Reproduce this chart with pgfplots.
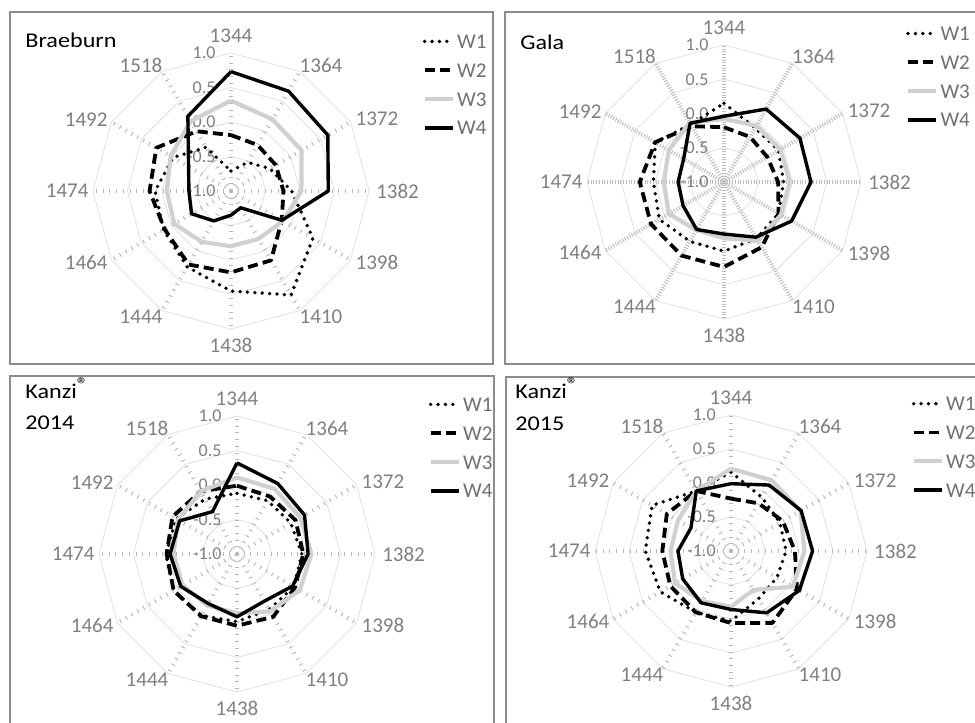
\documentclass[border=0pt]{standalone}
\usepackage{fontspec}
\setmainfont{Carlito}
\usepackage{graphicx}
\usepackage{pgfplots}
\usepackage{pgfplotstable}
\pgfplotsset{compat=1.18}

\definecolor{lab}{HTML}{7F7F7F}
\definecolor{ring}{HTML}{E3E3E3}
\definecolor{spk}{HTML}{B8B8B8}
\definecolor{spkb}{HTML}{BDBDBD}
\definecolor{wthree}{HTML}{D0D0D0}
\definecolor{frm}{HTML}{8C8C8C}
\definecolor{legtxt}{HTML}{707070}

% categories clockwise from top: angle a
% 1344 1364 1372 1382 1398 1410 1438 1444 1464 1474 1492 1518
\pgfplotstableread{
a   w1    w2    w3    w4
0   -0.71 -0.19  0.31  0.73
30  -0.52 -0.23  0.20  0.67
60  -0.35 -0.25  0.18  0.62
90  -0.12 -0.24  0.02  0.41
120  0.37 -0.15 -0.13 -0.15
150  0.74  0.16 -0.20 -0.72
180  0.45  0.18 -0.20 -0.65
210  0.27  0.23 -0.15 -0.50
240  0.13  0.11 -0.05 -0.34
270  0.10  0.18 -0.07 -0.39
300 -0.03  0.25  0.01 -0.29
330 -0.27  0.00  0.17  0.25
360 -0.71 -0.19  0.31  0.73
}\braeburn

\pgfplotstableread{
a   w1    w2    w3    w4
0    0.15 -0.20 -0.08 -0.04
30  -0.09 -0.24 -0.05  0.23
60  -0.08 -0.27 -0.05  0.28
90  -0.13 -0.21 -0.04  0.27
120 -0.08 -0.08 -0.04  0.14
150 -0.05  0.10 -0.01 -0.07
180  0.01  0.24 -0.18 -0.24
210  0.00  0.24 -0.19 -0.20
240  0.09  0.23 -0.07 -0.31
270  0.03  0.23 -0.12 -0.33
300  0.16  0.16 -0.07 -0.32
330 -0.03 -0.06  0.00 -0.01
360  0.15 -0.20 -0.08 -0.04
}\gala

\pgfplotstableread{
a   w1    w2    w3    w4
0   -0.12 -0.01  0.11  0.32
30  -0.11 -0.04  0.09  0.18
60  -0.10 -0.02  0.06  0.13
90  -0.06 -0.04  0.08  0.03
120 -0.05 -0.03  0.05 -0.07
150 -0.07  0.05 -0.04 -0.21
180 -0.02  0.04 -0.14 -0.09
210  0.03  0.04 -0.14 -0.17
240  0.06  0.06 -0.09 -0.06
270  0.03  0.02 -0.08 -0.03
300  0.02  0.08 -0.01 -0.04
330 -0.08  0.05  0.05 -0.29
360 -0.12 -0.01  0.11  0.32
}\kanzia

\pgfplotstableread{
a   w1    w2    w3    w4
0    0.16 -0.23  0.21 -0.01
30  -0.09 -0.19  0.20  0.12
60  -0.17 -0.12  0.18  0.19
90  -0.19 -0.06  0.08  0.20
120 -0.22  0.12  0.05  0.16
150 -0.19  0.22 -0.34  0.05
180  0.03  0.06 -0.18 -0.14
210  0.04  0.04 -0.15 -0.12
240  0.20  0.03 -0.05 -0.18
270  0.26  0.01 -0.11 -0.22
300  0.34  0.09 -0.10 -0.32
330  0.02  0.02  0.02  0.02
360  0.16 -0.23  0.21 -0.01
}\kanzib

\tikzset{
  w1/.style={black, line width=1.9pt, dash pattern=on 0pt off 3.7pt, line cap=round, line join=round},
  w2/.style={black, line width=1.9pt, dash pattern=on 5pt off 2.6pt, line join=round},
  w3/.style={wthree, line width=2.1pt, line join=round},
  w4/.style={black, line width=1.7pt, line join=round},
  spokeA/.style={spk, line width=2pt, dash pattern=on 0.5pt off 2.85pt},
  spokeB/.style={spkb, line width=2pt, dash pattern=on 0.5pt off 0.85pt},
}

\newcommand\catfont{\fontsize{10.5}{12}\selectfont}
\newcommand\tickfont{\fontsize{9}{10}\selectfont}
\newcommand\titlefont{\fontsize{10.5}{12}\selectfont}

% #1 center, #2 unit, #3 spoke style
\newcommand\radargrid[3]{%
  \begin{scope}[shift={#1}, x=#2, y=#2]
    \foreach \r in {0.5,1,1.5,2}
      \draw[ring, line width=0.45pt] (90:\r) \foreach \k in {1,...,11} {-- (90-30*\k:\r)} -- cycle;
    \foreach \k in {0,...,11}
      \draw[#3] (0,0) -- (90-30*\k:2);
    \foreach \lab/\ang/\anc/\rad in {1344/0/south/2.14, 1364/30/south west/1.98, 1372/60/west/2.08, 1382/90/west/2.1, 1398/120/west/2.08, 1410/150/north west/1.98, 1438/180/north/2.13, 1444/210/north east/1.98, 1464/240/east/2.06, 1474/270/east/2.06, 1492/300/east/2.06, 1518/330/south east/1.98}
      \node[anchor=\anc, inner sep=0pt, text=lab, font=\catfont] at (90-\ang:\rad) {\lab};
    \foreach \r/\t in {0/-1.0, 0.5/-0.5, 1/0.0, 1.5/0.5, 2/1.0}
      \node[anchor=east, inner sep=0pt, text=lab, font=\tickfont] at (-0.22,\r) {\t};
  \end{scope}}

\newcommand\radarplot[3]{%
  \addplot[#1] table[x expr={(\thisrow{#2}+1)*sin(\thisrow{a})}, y expr={(\thisrow{#2}+1)*cos(\thisrow{a})}] {#3};}

\pgfplotsset{
  radar/.style={hide axis, anchor=center, clip=false,
    xmin=-2.5, xmax=2.5, ymin=-2.5, ymax=2.5,
    legend style={at={(axis description cs:1.054,0.955)}, anchor=north west,
      draw=none, fill=none, inner sep=0pt, row sep=7.4pt,
      font=\catfont, text=legtxt,
      nodes={inner sep=0pt, text height=7pt, text depth=0pt},
      /tikz/every odd column/.append style={column sep=1.2pt}},
    legend cell align=left,
    legend image code/.code={\draw[##1] (0pt,0pt) -- (14pt,0pt);},
  },
  radarR/.style={radar, legend style={at={(axis description cs:1.03,0.955)}}},
}

\newcommand\kanzi{\scalebox{1.15}[1]{Kanzi\raisebox{0.3em}{\fontsize{10}{10}\selectfont ®}}}

\begin{document}
\begin{tikzpicture}
\path[use as bounding box] (0,0) rectangle (487.5pt,-361.5pt);
\clip (0,0) rectangle (487.5pt,-361.5pt);

% frames
\draw[frm, line width=0.6pt] (5pt,-6pt) rectangle (246.5pt,-182pt);
\draw[frm, line width=0.6pt] (252.5pt,-6pt) rectangle (495pt,-182pt);
\draw[frm, line width=0.6pt] (5pt,-188pt) rectangle (247pt,-370pt);
\draw[frm, line width=0.6pt] (253pt,-188.5pt) rectangle (495pt,-370pt);

% grids
\radargrid{(115.5pt,-95.5pt)}{34.5pt}{spokeA}
\radargrid{(362pt,-91pt)}{34.25pt}{spokeB}
\radargrid{(118.5pt,-277pt)}{34.5pt}{spokeA}
\radargrid{(365.5pt,-275.5pt)}{34pt}{spokeA}

% titles
\node[anchor=base west, inner sep=0pt, font=\titlefont] at (12.5pt,-23.5pt) {\scalebox{1.15}[1]{Braeburn}};
\node[anchor=base west, inner sep=0pt, font=\titlefont] at (260pt,-24.5pt) {\scalebox{1.15}[1]{Gala}};
\node[anchor=base west, inner sep=0pt, font=\titlefont] at (12.5pt,-199pt) {\kanzi};
\node[anchor=base west, inner sep=0pt, font=\titlefont] at (12.5pt,-214.5pt) {\scalebox{1.15}[1]{2014}};
\node[anchor=base west, inner sep=0pt, font=\titlefont] at (257.5pt,-199pt) {\kanzi};
\node[anchor=base west, inner sep=0pt, font=\titlefont] at (257.5pt,-215pt) {\scalebox{1.15}[1]{2015}};

% data
\begin{axis}[radar, x=34.5pt, y=34.5pt, at={(115.5pt,-95.5pt)}]
  \radarplot{w1}{w1}{\braeburn}
  \radarplot{w2}{w2}{\braeburn}
  \radarplot{w3}{w3}{\braeburn}
  \radarplot{w4}{w4}{\braeburn}
  \legend{W1,W2,W3,W4}
\end{axis}
\begin{axis}[radarR, x=34.25pt, y=34.25pt, at={(362pt,-91pt)}]
  \radarplot{w1}{w1}{\gala}
  \radarplot{w2}{w2}{\gala}
  \radarplot{w3}{w3}{\gala}
  \radarplot{w4}{w4}{\gala}
  \legend{W1,W2,W3,W4}
\end{axis}
\begin{axis}[radar, x=34.5pt, y=34.5pt, at={(118.5pt,-277pt)}]
  \radarplot{w1}{w1}{\kanzia}
  \radarplot{w2}{w2}{\kanzia}
  \radarplot{w3}{w3}{\kanzia}
  \radarplot{w4}{w4}{\kanzia}
  \legend{W1,W2,W3,W4}
\end{axis}
\begin{axis}[radarR, x=34pt, y=34pt, at={(365.5pt,-275.5pt)}]
  \radarplot{w1}{w1}{\kanzib}
  \radarplot{w2}{w2}{\kanzib}
  \radarplot{w3}{w3}{\kanzib}
  \radarplot{w4}{w4}{\kanzib}
  \legend{W1,W2,W3,W4}
\end{axis}
\end{tikzpicture}
\end{document}
